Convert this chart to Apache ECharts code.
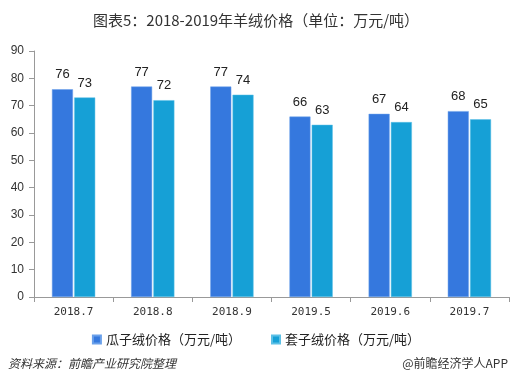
<!DOCTYPE html>
<html><head><meta charset="utf-8">
<script src="https://cdn.jsdelivr.net/npm/echarts@6/dist/echarts.min.js"></script>
<style>html,body{margin:0;padding:0;background:#fff}#c{width:512px;height:387px}</style>
</head><body><div id="c"></div>
<script>
var categories = ['2018.7','2018.8','2018.9','2019.5','2019.6','2019.7'];
var guaziPrice = [76, 77, 77, 66, 67, 68];
var taoziPrice = [73, 72, 74, 63, 64, 65];
var seriesNames = ['瓜子绒价格（万元/吨）','套子绒价格（万元/吨）'];
var yTicks = [0,10,20,30,40,50,60,70,80,90];

var chart = echarts.init(document.getElementById('c'), null, {renderer:'canvas'});
var cjk = '"Noto Sans CJK SC", "Noto Sans", sans-serif';
chart.setOption({
  backgroundColor:'#fff',
  animation:false,
  title:{text:'图表5：2018-2019年羊绒价格（单位：万元/吨）', left:'center', top:8,
    textStyle:{fontFamily:cjk, fontSize:15, fontWeight:'normal', color:'#333'}},
  legend:{data:seriesNames, top:328, left:'center', itemWidth:8, itemHeight:8, itemGap:30,
    icon:'rect', textStyle:{fontFamily:cjk, fontSize:13, color:'#222'}},
  grid:{left:34, right:3, top:51, bottom:90, containLabel:false},
  xAxis:{type:'category', data:categories,
    axisLine:{lineStyle:{color:'#999'}},
    axisTick:{show:true, length:5, lineStyle:{color:'#999'}},
    axisLabel:{fontFamily:'"DejaVu Sans Mono", monospace', fontSize:11, color:'#333', margin:10}},
  yAxis:{type:'value', min:0, max:90, interval:10,
    axisLine:{show:true, lineStyle:{color:'#999'}},
    axisTick:{show:true, length:5, lineStyle:{color:'#999'}},
    splitLine:{show:false},
    axisLabel:{fontFamily:'"Liberation Sans", Arial, sans-serif', fontSize:12, color:'#333', margin:10,
      formatter:function(v){return yTicks.indexOf(v)>=0?String(v):'';}}},
  series:[
    {name:seriesNames[0], type:'bar', data:guaziPrice, barWidth:21, barGap:'6%',
      itemStyle:{color:'#3578DE', borderColor:'#6aa0ea', borderWidth:0.5},
      label:{show:true, position:'top', distance:8, fontFamily:'"Liberation Sans", Arial, sans-serif', fontSize:13, color:'#222'}},
    {name:seriesNames[1], type:'bar', data:taoziPrice, barWidth:21,
      itemStyle:{color:'#16A0D6', borderColor:'#5cc0e6', borderWidth:0.5},
      label:{show:true, position:'top', distance:8, fontFamily:'"Liberation Sans", Arial, sans-serif', fontSize:13, color:'#222'}}
  ],
  graphic:[
    {type:'text', left:8, top:357, style:{text:'资料来源：前瞻产业研究院整理', font:'italic 12px "Noto Sans CJK SC", sans-serif', fill:'#333'}},
    {type:'text', right:4, top:357, style:{text:'@前瞻经济学人APP', font:'12px "Noto Sans CJK SC", sans-serif', fill:'#333'}}
  ]
});
</script></body></html>
